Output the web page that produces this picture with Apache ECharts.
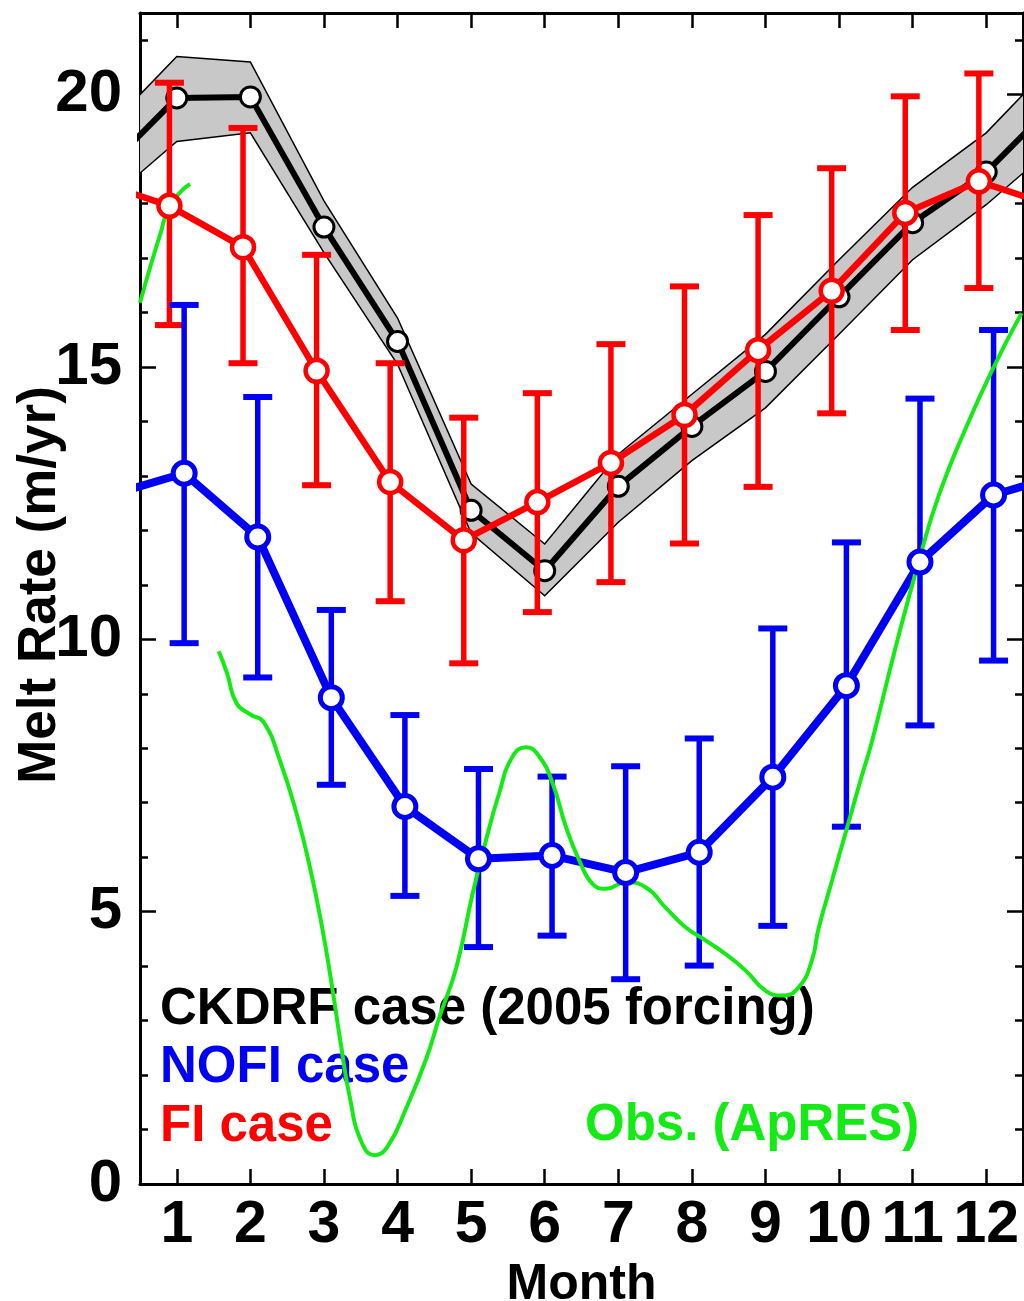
<!DOCTYPE html>
<html>
<head>
<meta charset="utf-8">
<script src="https://cdn.jsdelivr.net/npm/echarts@6/dist/echarts.min.js"></script>
<style>
html,body{margin:0;padding:0;background:#fff;}
#chart{width:1024px;height:1301px;}
</style>
</head>
<body>
<div id="chart"></div>
<script>
// ---------------- data ----------------
const months = [1, 2, 3, 4, 5, 6, 7, 8, 9, 10, 11, 12];

// CKDRF case (2005 forcing): mean and spread band
const ckdrfMean  = [19.94, 19.96, 17.57, 15.47, 12.37, 11.26, 12.81, 13.91, 14.92, 16.29, 17.65, 18.58];
const ckdrfUpper = [20.70, 20.60, 18.05, 15.90, 12.85, 11.75, 13.40, 14.50, 15.60, 16.97, 18.30, 19.30];
const ckdrfLower = [19.14, 19.30, 17.10, 15.05, 11.95, 10.80, 12.15, 13.28, 14.25, 15.60, 16.97, 17.98];

// FI case
const fiMean = [17.96, 17.20, 14.93, 12.89, 11.82, 12.52, 13.24, 14.12, 15.31, 16.40, 17.83, 18.41];
const fiLow  = [15.77, 15.07, 12.83, 10.70, 9.56, 10.50, 11.05, 11.76, 12.80, 14.15, 15.68, 16.45];
const fiHigh = [20.22, 19.39, 17.06, 15.07, 14.07, 14.52, 15.42, 16.48, 17.79, 18.65, 19.97, 20.39];

// NOFI case
const nofiMean = [13.05, 11.88, 8.93, 6.93, 5.97, 6.03, 5.72, 6.09, 7.47, 9.15, 11.42, 12.65];
const nofiLow  = [9.93, 9.30, 7.33, 5.29, 4.35, 4.56, 3.76, 4.01, 4.74, 6.56, 8.42, 9.61];
const nofiHigh = [16.14, 14.45, 10.54, 8.61, 7.62, 7.48, 7.67, 8.18, 10.20, 11.78, 14.42, 15.68];

// Obs. (ApRES) – null marks the gap in the record
const obsMonth = [0.50, 0.64, 0.78, 0.88, 1.04, 1.18, 1.37,
  1.57, 1.68, 1.81, 2.00, 2.18, 2.40, 2.63, 2.81, 2.97, 3.10, 3.22, 3.35, 3.51, 3.69, 3.87,
  4.12, 4.39, 4.57, 4.80, 5.02, 5.20, 5.38, 5.56, 5.75, 5.93, 6.11, 6.29, 6.47, 6.65, 6.83,
  7.10, 7.37, 7.64, 7.91, 8.19, 8.46, 8.73, 9.00, 9.23, 9.45, 9.63, 9.72, 9.90, 10.10, 10.30,
  10.45, 10.77, 11.10, 11.35, 11.71, 12.08, 12.48];
const obsValue = [16.18, 16.84, 17.46, 17.89, 18.20, 18.36, null,
  9.78, 9.39, 8.83, 8.62, 8.48, 7.78, 6.79, 5.81, 4.75, 3.71, 2.65, 1.60, 0.77, 0.53, 0.70,
  1.40, 2.30, 3.07, 3.98, 5.33, 6.30, 7.17, 7.84, 8.02, 7.84, 7.35, 6.55, 5.94, 5.51, 5.42,
  5.54, 5.45, 5.08, 4.72, 4.47, 4.22, 3.92, 3.55, 3.46, 3.61, 4.10, 4.68, 5.55, 6.50, 7.45,
  8.14, 9.86, 11.51, 12.62, 13.84, 14.94, 15.99];

const yMajorTicks = [0, 5, 10, 15, 20];
const yMinorTicks = [0, 1, 2, 3, 4, 5, 6, 7, 8, 9, 10, 11, 12, 13, 14, 15, 16, 17, 18, 19, 20, 21];

const legendTexts = ['CKDRF case (2005 forcing)', 'NOFI case', 'FI case', 'Obs. (ApRES)'];
const yAxisTitle = 'Melt Rate (m/yr)';
const xAxisTitle = 'Month';

// ---------------- styling constants ----------------
const FONT = '"Liberation Sans", Arial, Helvetica, sans-serif';
const RED = '#ff0000', BLUE = '#0000f5', GREEN = '#14ea14', BLACK = '#000000';
const FI_SHIFT = -0.1, NOFI_SHIFT = 0.1;

// periodic (wrap-around) line data: Dec before Jan, Jan after Dec
function cyclic(vals, shift) {
  const pts = months.map((m, i) => [m + shift, vals[i]]);
  return [[0 + shift, vals[11]]].concat(pts, [[13 + shift, vals[0]]]);
}
function points(vals, shift) { return months.map((m, i) => [m + shift, vals[i]]); }

const bandData = [[0, ckdrfLower[11], ckdrfUpper[11]]]
  .concat(months.map((m, i) => [m, ckdrfLower[i], ckdrfUpper[i]]), [[13, ckdrfLower[0], ckdrfUpper[0]]]);

function errorBarSeries(low, high, shift, color, z) {
  return {
    type: 'custom', z: z, clip: true,
    data: months.map((m, i) => [m + shift, low[i], high[i]]),
    renderItem: function (params, api) {
      const x = api.value(0);
      const pLo = api.coord([x, api.value(1)]);
      const pHi = api.coord([x, api.value(2)]);
      const half = 14.5;
      return {
        type: 'group',
        children: [
          { type: 'line', shape: { x1: pLo[0], y1: pLo[1], x2: pHi[0], y2: pHi[1] }, style: { stroke: color, lineWidth: 5.5 } },
          { type: 'line', shape: { x1: pLo[0] - half, y1: pLo[1], x2: pLo[0] + half, y2: pLo[1] }, style: { stroke: color, lineWidth: 6 } },
          { type: 'line', shape: { x1: pHi[0] - half, y1: pHi[1], x2: pHi[0] + half, y2: pHi[1] }, style: { stroke: color, lineWidth: 6 } }
        ]
      };
    }
  };
}

const chart = echarts.init(document.getElementById('chart'), null, { renderer: 'canvas' });

const xBase = {
  type: 'value', min: 0.5, max: 12.5,
  splitLine: { show: false },
  axisLine: { show: true, onZero: false, lineStyle: { color: BLACK, width: 3 } },
  axisTick: { show: true, inside: true, length: 15, customValues: months, lineStyle: { color: BLACK, width: 2.5 } }
};
const yBase = { type: 'value', min: 0, max: 21.5, splitLine: { show: false } };

const option = {
  animation: false,
  backgroundColor: '#ffffff',
  grid: { left: 140, right: 1, top: 13, bottom: 117, containLabel: false, outerBoundsMode: 'none' },
  xAxis: [
    Object.assign({}, xBase, {
      position: 'bottom',
      axisLabel: { show: true, customValues: months, margin: 12, color: BLACK, fontSize: 59, fontWeight: 'bold', fontFamily: FONT },
      name: xAxisTitle, nameLocation: 'middle', nameGap: 61,
      nameTextStyle: { color: BLACK, fontSize: 50, fontWeight: 'bold', fontFamily: FONT }
    }),
    Object.assign({}, xBase, { position: 'top', axisLabel: { show: false } })
  ],
  yAxis: [
    Object.assign({}, yBase, {
      position: 'left',
      axisLine: { show: true, onZero: false, lineStyle: { color: BLACK, width: 3 } },
      axisTick: { show: true, inside: true, length: 16, customValues: yMajorTicks, lineStyle: { color: BLACK, width: 2.5 } },
      axisLabel: { show: true, customValues: yMajorTicks, margin: 18, color: BLACK, fontSize: 60, fontWeight: 'bold', fontFamily: FONT }
    }),
    Object.assign({}, yBase, {
      position: 'left', offset: 0,
      axisLine: { show: false },
      axisTick: { show: true, inside: true, length: 8, customValues: yMinorTicks, lineStyle: { color: BLACK, width: 2.5 } },
      axisLabel: { show: false }
    }),
    Object.assign({}, yBase, {
      position: 'right', offset: 0,
      axisLine: { show: true, onZero: false, lineStyle: { color: BLACK, width: 3 } },
      axisTick: { show: true, inside: true, length: 16, customValues: yMajorTicks, lineStyle: { color: BLACK, width: 2.5 } },
      axisLabel: { show: false }
    }),
    Object.assign({}, yBase, {
      position: 'right', offset: 0,
      axisLine: { show: false },
      axisTick: { show: true, inside: true, length: 8, customValues: yMinorTicks, lineStyle: { color: BLACK, width: 2.5 } },
      axisLabel: { show: false }
    })
  ],
  graphic: {
    elements: [
      { type: 'text', z: 1, x: 40, y: 585, rotation: Math.PI / 2,
        style: { text: yAxisTitle, fill: BLACK, font: 'bold 53px ' + FONT, align: 'center', verticalAlign: 'middle' } },
      { type: 'text', z: 1, x: 160, y: 1010, style: { text: legendTexts[0], fill: BLACK, font: 'bold 51px ' + FONT, align: 'left', verticalAlign: 'middle' } },
      { type: 'text', z: 1, x: 160, y: 1068, style: { text: legendTexts[1], fill: BLUE, font: 'bold 51px ' + FONT, align: 'left', verticalAlign: 'middle' } },
      { type: 'text', z: 1, x: 160, y: 1127, style: { text: legendTexts[2], fill: RED, font: 'bold 51px ' + FONT, align: 'left', verticalAlign: 'middle' } },
      { type: 'text', z: 1, x: 585, y: 1126, style: { text: legendTexts[3], fill: GREEN, font: 'bold 51px ' + FONT, align: 'left', verticalAlign: 'middle' } }
    ]
  },
  series: [
    // spread band of CKDRF (single polygon through the axis scales)
    {
      type: 'custom', z: 1,
      data: bandData,
      renderItem: function (params, api) {
        if (params.dataIndex !== 0) return null;
        const up = bandData.map(d => api.coord([d[0], d[2]]));
        const lo = bandData.map(d => api.coord([d[0], d[1]])).reverse();
        const cs = params.coordSys;
        return {
          type: 'group',
          clipPath: { type: 'rect', shape: { x: cs.x, y: cs.y, width: cs.width, height: cs.height } },
          children: [
            { type: 'polygon', shape: { points: up.concat(lo) }, style: { fill: '#c8c8c8', stroke: BLACK, lineWidth: 1.5 } }
          ]
        };
      }
    },
    // CKDRF mean line
    {
      type: 'line', z: 2, symbol: 'none', clip: true,
      data: cyclic(ckdrfMean, 0),
      lineStyle: { color: BLACK, width: 6 }
    },
    {
      type: 'scatter', z: 3, symbol: 'circle', symbolSize: 20,
      data: points(ckdrfMean, 0),
      itemStyle: { color: '#ffffff', borderColor: BLACK, borderWidth: 3, opacity: 1 }
    },
    // FI
    errorBarSeries(fiLow, fiHigh, FI_SHIFT, RED, 4),
    {
      type: 'line', z: 5, symbol: 'none', clip: true,
      data: cyclic(fiMean, FI_SHIFT),
      lineStyle: { color: RED, width: 6.5 }
    },
    // NOFI
    errorBarSeries(nofiLow, nofiHigh, NOFI_SHIFT, BLUE, 6),
    {
      type: 'line', z: 7, symbol: 'none', clip: true,
      data: cyclic(nofiMean, NOFI_SHIFT),
      lineStyle: { color: BLUE, width: 8 }
    },
    // Observations
    {
      type: 'line', z: 8, symbol: 'none', clip: true, smooth: 0.5, connectNulls: false,
      data: obsMonth.map((m, i) => [m, obsValue[i] === null ? '-' : obsValue[i]]),
      lineStyle: { color: GREEN, width: 4 }
    },
    {
      type: 'scatter', z: 9, symbol: 'circle', symbolSize: 22,
      data: points(fiMean, FI_SHIFT),
      itemStyle: { color: '#ffffff', borderColor: RED, borderWidth: 4.5, opacity: 1 }
    },
    {
      type: 'scatter', z: 10, symbol: 'circle', symbolSize: 22,
      data: points(nofiMean, NOFI_SHIFT),
      itemStyle: { color: '#ffffff', borderColor: BLUE, borderWidth: 5, opacity: 1 }
    }
  ]
};

chart.setOption(option);
</script>
</body>
</html>
